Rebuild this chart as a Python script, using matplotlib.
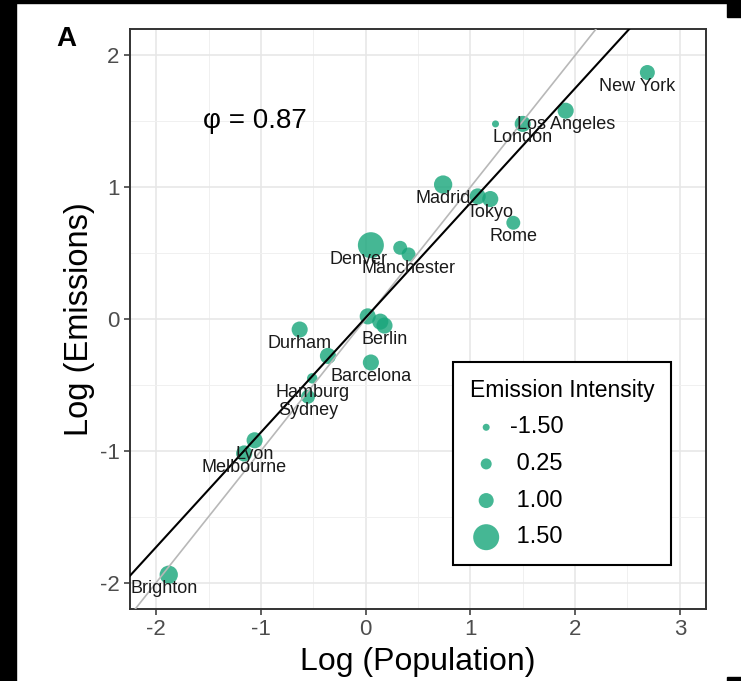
import numpy as np
import matplotlib
matplotlib.use("Agg")
import matplotlib.pyplot as plt
from matplotlib.patches import Rectangle

plt.rcParams['font.family'] = ['Liberation Sans', 'DejaVu Sans']
plt.rcParams['axes.unicode_minus'] = False

# city data (log population, log emissions, emission intensity)
cities = ['New York', 'Los Angeles', 'London', '', 'Madrid', '', 'Tokyo', 'Rome',
          'Denver', '', 'Manchester', '', '', 'Berlin', 'Durham', '', 'Barcelona',
          'Hamburg', 'Sydney', 'Lyon', 'Melbourne', 'Brighton']
log_pop = [2.69, 1.91, 1.50, 1.24, 0.74, 1.07, 1.19, 1.41,
           0.05, 0.33, 0.41, 0.02, 0.14, 0.18, -0.63, -0.36, 0.05,
           -0.51, -0.55, -1.06, -1.16, -1.88]
log_em = [1.87, 1.58, 1.48, 1.48, 1.02, 0.93, 0.91, 0.73,
          0.56, 0.54, 0.49, 0.02, -0.02, -0.05, -0.08, -0.28, -0.33,
          -0.45, -0.59, -0.92, -1.02, -1.94]
intensity = [1.0, 1.05, 1.05, -1.5, 1.15, 1.05, 1.05, 0.8,
             1.5, 0.8, 0.8, 1.05, 1.05, 1.05, 1.05, 1.05, 1.05,
             0.0, 0.8, 1.05, 1.05, 1.15]

legend_breaks = [-1.5, 0.25, 1.0, 1.5]
legend_labels = ['-1.50', ' 0.25', ' 1.00', ' 1.50']

fit_slope = 0.87
fit_intercept = 0.01
phi = 0.87

# horizontal nudge (pixels) for a few labels
label_nudge = {'New York': -10, 'Denver': -12, 'Brighton': -5}

point_col = '#17a57a'


def size_of(v):
    d_px = np.interp(v, [-1.5, 0.25, 1.0, 1.5], [7, 11, 15, 26])
    return (d_px * 0.72) ** 2


fig = plt.figure(figsize=(7.41, 6.81), dpi=100)
ax = fig.add_axes([130 / 741, 1 - 609 / 681, 576 / 741, 580 / 681])

ax.set_xlim(-2.25, 3.25)
ax.set_ylim(-2.2, 2.2)
ax.set_xticks([-2, -1, 0, 1, 2, 3])
ax.set_yticks([-2, -1, 0, 1, 2])
ax.set_xticks(np.arange(-2, 3.5, 0.5), minor=True)
ax.set_yticks(np.arange(-2, 2.5, 0.5), minor=True)
ax.grid(which='major', color='#e6e6e6', lw=1.1, zorder=0)
ax.grid(which='minor', color='#f0f0f0', lw=0.7, zorder=0)
ax.set_axisbelow(True)
ax.tick_params(which='minor', length=0)
ax.tick_params(which='major', length=4, width=1.1, color='#333333',
               labelsize=16, labelcolor='#4d4d4d')
for s in ax.spines.values():
    s.set_color('#333333')
    s.set_linewidth(1.4)

sizes = [size_of(v) for v in intensity]
ax.scatter(log_pop, log_em, s=sizes, color=point_col, alpha=0.8,
           edgecolors='none', zorder=2)

xx = np.array([-3, 4])
ax.plot(xx, xx, color='#b8b8b8', lw=1.2, zorder=3)
ax.plot(xx, fit_slope * xx + fit_intercept, color='black', lw=1.5, zorder=3)

for name, x, y in zip(cities, log_pop, log_em):
    if name:
        ax.annotate(name, (x, y), xytext=(label_nudge.get(name, 0) * 0.72, -10),
                    textcoords='offset points', ha='center', va='center',
                    fontsize=13, color='#1a1a1a', zorder=4)

ax.text(-1.55, 1.5, '\u03c6 = %.2f' % phi, fontsize=20,
        ha='left', va='center')

handles = [ax.scatter([], [], s=size_of(v), color=point_col, alpha=0.8,
                      edgecolors='none') for v in legend_breaks]
leg = ax.legend(handles, legend_labels, title='Emission Intensity',
                loc='lower left', bbox_to_anchor=(0.561, 0.076),
                borderaxespad=0, fontsize=17, title_fontsize=16.5, frameon=True,
                fancybox=False, edgecolor='black', framealpha=1,
                labelspacing=0.62, handletextpad=0.3, borderpad=0.7,
                handlelength=1.4, alignment='left')
leg.get_frame().set_linewidth(1.5)
leg.set_zorder(5)

ax.set_xlabel('Log (Population)', fontsize=23)
ax.set_ylabel('Log (Emissions)', fontsize=23.5)
ax.xaxis.set_label_coords(0.5, -0.065)
ax.yaxis.set_label_coords(-0.06, 0.5)

fig.text(66 / 741, 1 - 39 / 681, 'A', fontsize=20, fontweight='bold',
         ha='center', va='center')

# black edges of the scanned figure
fig.add_artist(Rectangle((0, 0), 16 / 741, 1, transform=fig.transFigure,
                         color='black'))
fig.add_artist(Rectangle((0, 1 - 3 / 681), 1, 3 / 681, transform=fig.transFigure,
                         color='black'))
fig.add_artist(Rectangle((727 / 741, 1 - 17 / 681), 14 / 741, 17 / 681,
                         transform=fig.transFigure, color='black'))
fig.add_artist(Rectangle((727 / 741, 0), 14 / 741, 4 / 681,
                         transform=fig.transFigure, color='black'))

fig.savefig('out.png', dpi=100)
